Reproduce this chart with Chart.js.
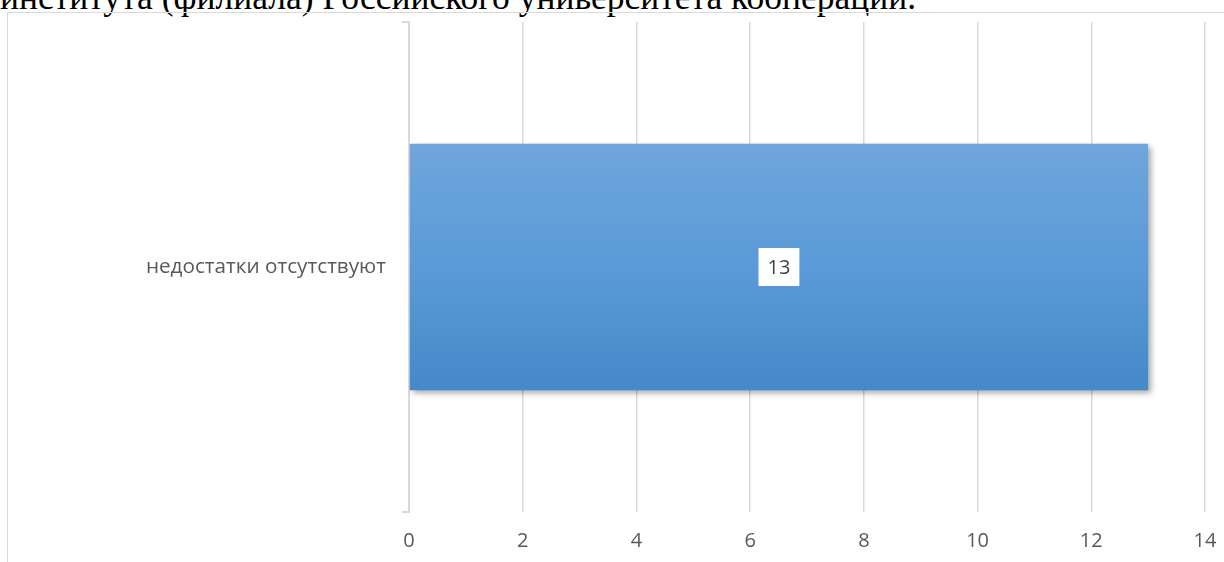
<!DOCTYPE html>
<html>
<head>
<meta charset="utf-8">
<script src="https://cdn.jsdelivr.net/npm/chart.js@4/dist/chart.umd.min.js"></script>
<style>
  html, body { margin: 0; padding: 0; background: #fff; }
  body { width: 1224px; height: 562px; position: relative; overflow: hidden; }
  #caption {
    position: absolute; left: 0; top: -23px; white-space: nowrap;
    font-family: "Liberation Serif", serif; font-size: 35.5px; line-height: 40px; color: #000;
  }
  #frame {
    position: absolute; left: 7px; top: 12px; width: 1240px; height: 560px;
    border: 1px solid #d9d9d9; box-sizing: border-box;
  }
  #wrap { position: absolute; left: 0; top: 0; width: 1224px; height: 562px; }
</style>
</head>
<body>
<div id="caption">института (филиала) Российского университета кооперации.</div>
<div id="frame"></div>
<div id="wrap"><canvas id="myChart" width="1224" height="562"></canvas></div>
<script>
var categories = ['недостатки отсутствуют'];
var values = [13];
var xTicks = [0, 2, 4, 6, 8, 10, 12, 14];

var shadowPlugin = {
  id: 'shadow',
  beforeDatasetsDraw: function (chart) {
    var c = chart.ctx;
    c.save();
    c.shadowColor = 'rgba(0,0,0,0.35)';
    c.shadowBlur = 6;
    c.shadowOffsetX = 3;
    c.shadowOffsetY = 3;
  },
  afterDatasetsDraw: function (chart) {
    chart.ctx.restore();
  }
};

var labelPlugin = {
  id: 'valueLabel',
  afterDatasetsDraw: function (chart) {
    var c = chart.ctx;
    var meta = chart.getDatasetMeta(0);
    meta.data.forEach(function (bar, i) {
      var txt = String(values[i]);
      var cx = (bar.x + bar.base) / 2;
      var cy = bar.y;
      c.save();
      c.font = '20px "Open Sans"';
      var w = c.measureText(txt).width;
      c.fillStyle = '#fff';
      c.fillRect(cx - w / 2 - 9, cy - 19, w + 18, 38);
      c.fillStyle = '#404040';
      c.textAlign = 'center';
      c.textBaseline = 'middle';
      c.fillText(txt, cx, cy + 1);
      c.restore();
    });
  }
};

var ctx = document.getElementById('myChart').getContext('2d');
var myChart = new Chart(ctx, {
  type: 'bar',
  data: {
    labels: categories,
    datasets: [{
      data: values,
      backgroundColor: function (context) {
        var chart = context.chart;
        var area = chart.chartArea;
        var ys = chart.scales.y;
        if (!area || !ys) return '#5b9bd5';
        var cy = ys.getPixelForValue(context.dataIndex);
        var h = (area.bottom - area.top) / categories.length * 0.503;
        if (!isFinite(cy) || !isFinite(h)) return '#5b9bd5';
        var g = chart.ctx.createLinearGradient(0, cy - h / 2, 0, cy + h / 2);
        g.addColorStop(0, '#6fa6db');
        g.addColorStop(0.5, '#5a9ad8');
        g.addColorStop(1, '#4689c8');
        return g;
      },
      borderWidth: 0,
      categoryPercentage: 1,
      barPercentage: 0.503
    }]
  },
  options: {
    indexAxis: 'y',
    responsive: false,
    animation: false,
    devicePixelRatio: 1,
    layout: { padding: { top: 22, right: 19, bottom: 0, left: 0 } },
    plugins: {
      legend: { display: false },
      tooltip: { enabled: false }
    },
    scales: {
      x: {
        min: 0,
        max: 14,
        afterBuildTicks: function (axis) {
          axis.ticks = xTicks.map(function (v) { return { value: v }; });
        },
        afterFit: function (axis) {
          axis.height = 50;
          axis.paddingLeft = 0;
          axis.paddingRight = 0;
        },
        grid: { color: '#d9d9d9', lineWidth: 1.5, drawTicks: false },
        border: { display: false },
        ticks: { color: '#595959', padding: 17, font: { family: 'Open Sans', size: 20 } }
      },
      y: {
        afterFit: function (axis) {
          axis.width = 409;
          axis.paddingTop = 0;
          axis.paddingBottom = 0;
        },
        grid: { drawOnChartArea: false, drawTicks: true, tickLength: 7, color: '#d9d9d9', lineWidth: 2 },
        border: { display: true, color: '#d9d9d9', width: 2 },
        ticks: { color: '#595959', padding: 16, font: { family: 'Open Sans', size: 20.7 } }
      }
    }
  },
  plugins: [shadowPlugin, labelPlugin]
});
</script>
</body>
</html>
